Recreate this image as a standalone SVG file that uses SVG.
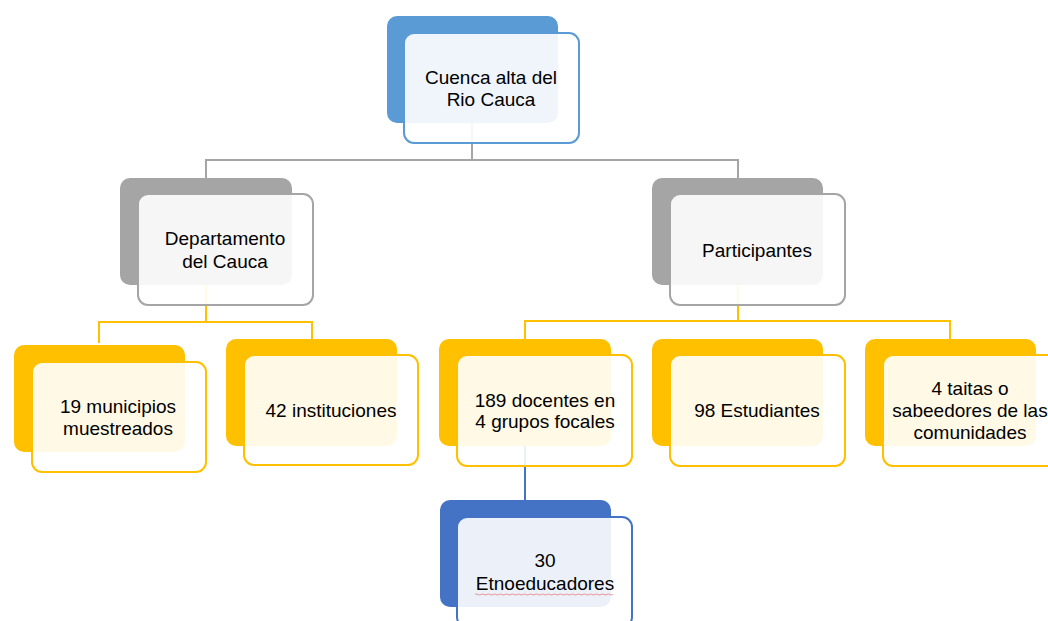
<svg xmlns="http://www.w3.org/2000/svg" width="1048" height="621" viewBox="0 0 1048 621">
<style>
.t{font-family:"Liberation Sans",Arial,sans-serif;font-size:19px;fill:#000;text-anchor:middle}
.front{fill:#fff;fill-opacity:0.9;stroke-width:2}
.c{fill:none;stroke-width:2}
.blue .back{fill:#5B9BD5}.blue .front{stroke:#5B9BD5}
.gray .back{fill:#A5A5A5}.gray .front{stroke:#A5A5A5}
.gold .back{fill:#FFC000}.gold .front{stroke:#FFC000}
.dblue .back{fill:#4472C4}.dblue .front{stroke:#4472C4}
</style>
<rect width="1048" height="621" fill="#fff"/>
<g id="connectors">
  <path class="c" stroke="#A5A5A5" d="M472 123V160M206 178V160H738V178"/>
  <path class="c" stroke="#FFC000" d="M206 285V322M99 343V322H312V339"/>
  <path class="c" stroke="#FFC000" d="M738 285V321M525 339V321H950V339"/>
  <path class="c" stroke="#4472C4" d="M525 446V500"/>
</g>
<g id="n-cuenca" class="blue">
  <rect class="back" x="387" y="16" width="171" height="107" rx="10"/>
  <rect class="front" x="404" y="33" width="175" height="110" rx="10"/>
  <text class="t" x="491" y="84">Cuenca alta del</text>
  <text class="t" x="491" y="106">Rio Cauca</text>
</g>
<g id="n-dept" class="gray">
  <rect class="back" x="120" y="178" width="172" height="107" rx="10"/>
  <rect class="front" x="138" y="194" width="175" height="111" rx="10"/>
  <text class="t" x="225" y="245">Departamento</text>
  <text class="t" x="225" y="268">del Cauca</text>
</g>
<g id="n-part" class="gray">
  <rect class="back" x="652" y="178" width="171" height="107" rx="10"/>
  <rect class="front" x="670" y="194" width="175" height="111" rx="10"/>
  <text class="t" x="757" y="257">Participantes</text>
</g>
<g id="n-muni" class="gold">
  <rect class="back" x="14" y="345" width="171" height="107" rx="10"/>
  <rect class="front" x="32" y="362" width="174" height="110" rx="10"/>
  <text class="t" x="118" y="413">19 municipios</text>
  <text class="t" x="118" y="435">muestreados</text>
</g>
<g id="n-inst" class="gold">
  <rect class="back" x="226" y="339" width="171" height="107" rx="10"/>
  <rect class="front" x="244" y="355" width="174" height="110" rx="10"/>
  <text class="t" x="331" y="417">42 instituciones</text>
</g>
<g id="n-doc" class="gold">
  <rect class="back" x="439" y="339" width="172" height="107" rx="10"/>
  <rect class="front" x="457" y="355" width="175" height="111" rx="10"/>
  <text class="t" x="545" y="407">189 docentes en</text>
  <text class="t" x="545" y="428">4 grupos focales</text>
</g>
<g id="n-est" class="gold">
  <rect class="back" x="652" y="339" width="171" height="107" rx="10"/>
  <rect class="front" x="670" y="355" width="175" height="111" rx="10"/>
  <text class="t" x="757" y="417">98 Estudiantes</text>
</g>
<g id="n-taitas" class="gold">
  <rect class="back" x="865" y="339" width="171" height="107" rx="10"/>
  <rect class="front" x="883" y="355" width="175" height="111" rx="10"/>
  <text class="t" x="970" y="395">4 taitas o</text>
  <text class="t" x="970" y="417">sabeedores de las</text>
  <text class="t" x="970" y="439">comunidades</text>
</g>
<g id="n-etno" class="dblue">
  <rect class="back" x="440" y="500" width="171" height="107" rx="10"/>
  <rect class="front" x="457" y="517" width="175" height="110" rx="10"/>
  <text class="t" x="545" y="567">30</text>
  <text class="t" x="545" y="590">Etnoeducadores</text>
  <path d="M475 594.5q1.5-1 3 0t3 0t3 0t3 0t3 0t3 0t3 0t3 0t3 0t3 0t3 0t3 0t3 0t3 0t3 0t3 0t3 0t3 0t3 0t3 0t3 0t3 0t3 0t3 0t3 0t3 0t3 0t3 0t3 0t3 0t3 0t3 0t3 0t3 0t3 0t3 0t3 0t3 0t3 0t3 0t3 0t3 0t3 0t3 0t3 0t3 0" fill="none" stroke="#E8787A" stroke-width="0.8"/>
</g>
</svg>
